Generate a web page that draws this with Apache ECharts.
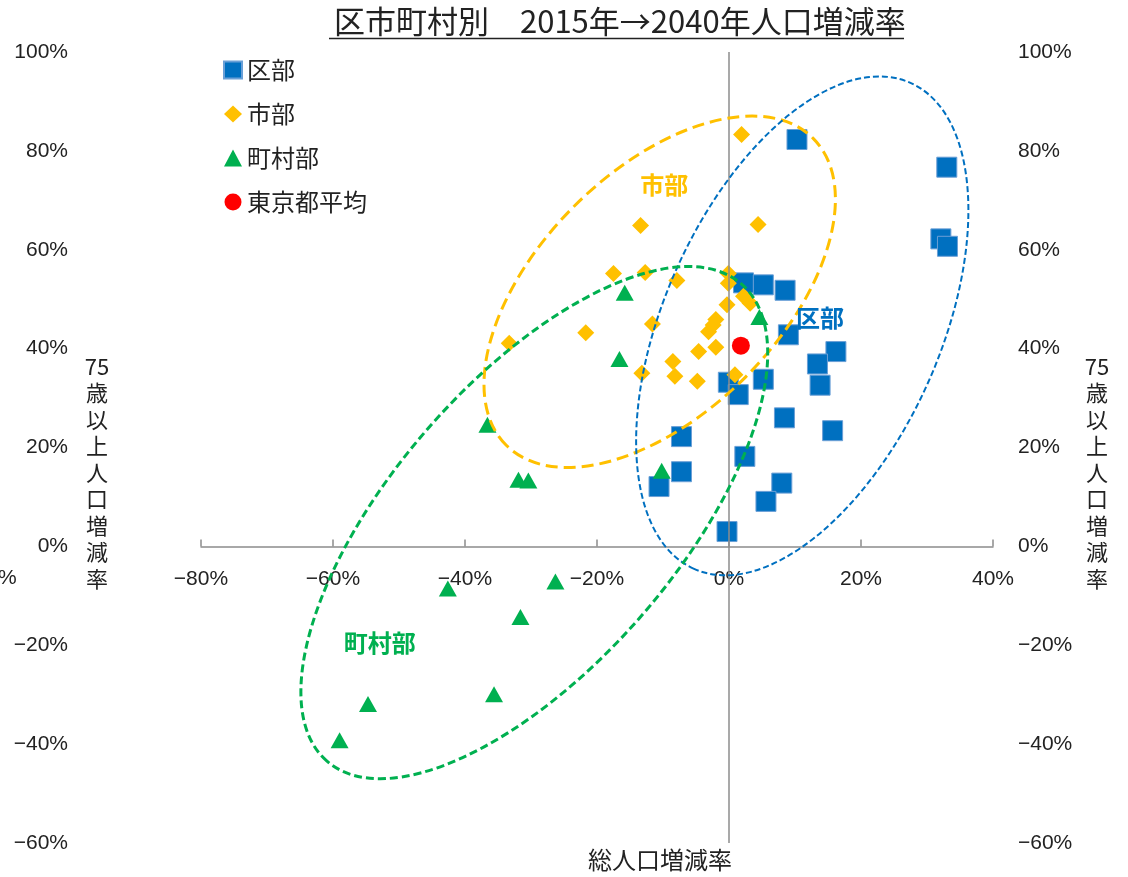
<!DOCTYPE html>
<html>
<head>
<meta charset="utf-8">
<script src="https://cdn.jsdelivr.net/npm/echarts@6/dist/echarts.min.js"></script>
<style>
  html, body { margin: 0; padding: 0; background: #fff; }
  #chart { width: 1128px; height: 877px; }
</style>
</head>
<body>
<div id="chart"></div>
<script>
// 総人口増減率 (x, %) / 75歳以上人口増減率 (y, %)
const kubuX = [10.3, 33.0, 32.1, 33.1, 2.2, 5.2, 8.5, 9.0, 16.2, 13.4, 13.8, 5.2, -0.1, 1.4, 8.4, 15.7, -7.2, 2.4, -7.2, -10.6, 8.0, 5.6, -0.3];
const kubuY = [82.3, 76.7, 62.2, 60.7, 53.3, 52.9, 51.8, 42.8, 39.4, 36.9, 32.6, 33.8, 33.2, 30.7, 26.0, 23.4, 22.2, 18.2, 15.1, 12.1, 12.8, 9.1, 3.0];

const shibuX = [1.9, -13.4, 4.4, -17.5, -12.7, -7.9, -0.1, -0.1, 2.2, 3.2, -0.3, -11.6, -2.0, -2.4, -3.1, -21.7, -33.3, -2.0, -4.6, -8.5, -13.2, -8.2, -4.8, 0.9];
const shibuY = [83.3, 64.9, 65.1, 55.2, 55.4, 53.8, 55.2, 53.2, 50.6, 49.2, 48.9, 45.0, 45.9, 44.8, 43.4, 43.2, 41.1, 40.3, 39.4, 37.4, 35.0, 34.4, 33.4, 34.7];

const chosonX = [-15.8, -16.6, 4.6, -10.2, -36.6, -31.9, -30.4, -42.6, -26.3, -31.6, -35.6, -54.7, -59.0];
const chosonY = [51.3, 37.9, 46.4, 15.3, 24.6, 13.5, 13.3, -8.5, -7.1, -14.3, -29.9, -31.9, -39.2];

const tokyoX = [1.8];
const tokyoY = [40.6];

const seriesNames = ['区部', '市部', '町村部', '東京都平均'];
const colors = ['#0070c0', '#ffc000', '#00b050', '#ff0000'];

// 軸の範囲
const xMin = -80, xMax = 40, xStep = 20;
const yMin = -60, yMax = 100, yStep = 20;

// 楕円の注記: 中心(データ座標)
const groupNames = ['市部', '区部', '町村部'];
const groupLabelX = [-9.8, 13.8, -52.9];
const groupLabelY = [73.2, 46.3, -19.6];
const ellipseCx = [-10.5, 11.1, -29.5];
const ellipseCy = [51.5, 44.6, 4.8];

const FONT = '"Noto Sans CJK JP", "Noto Sans", sans-serif';
const NUM_FONT = '"Liberation Sans", Arial, sans-serif';

function pairs(xs, ys) {
  return xs.map((x, i) => [x, ys[i]]);
}
function pct(v) {
  return String(v).replace('-', '\u2212') + '%';
}

const gridTop = 52, gridBottom = 34, chartH = 877;
const gridH = chartH - gridTop - gridBottom;
// x軸を y=0 の位置に移動
const xAxisOffset = -gridH * (0 - yMin) / (yMax - yMin);

const chart = echarts.init(document.getElementById('chart'));

const yAxisBase = {
  type: 'value',
  min: yMin,
  max: yMax,
  interval: yStep,
  axisLine: { show: false },
  axisTick: { show: false },
  splitLine: { show: false },
  axisLabel: {
    color: '#222',
    fontSize: 21,
    fontFamily: NUM_FONT,
    padding: [4, 0, 0, 0],
    formatter: pct
  }
};

const option = {
  animation: false,
  title: {
    text: '区市町村別\u30002015年\u21922040年人口増減率',
    left: 329,
    top: 1,
    textStyle: { fontFamily: FONT, fontSize: 31, fontWeight: 'normal', color: '#222' }
  },
  legend: {
    orient: 'vertical',
    left: 223,
    top: 58,
    padding: 0,
    itemGap: 20,
    itemWidth: 18,
    itemHeight: 17,
    textStyle: { fontFamily: FONT, fontSize: 24, lineHeight: 24, color: '#222' },
    data: seriesNames
  },
  grid: { left: 201, right: 135, top: gridTop, bottom: gridBottom, outerBoundsMode: 'none' },
  xAxis: {
    type: 'value',
    min: xMin,
    max: xMax,
    interval: xStep,
    offset: xAxisOffset,
    axisLine: { onZero: false, lineStyle: { color: '#8c8c8c', width: 1.5 } },
    axisTick: { show: true, inside: true, length: 7, lineStyle: { color: '#8c8c8c', width: 1.5 } },
    splitLine: { show: false },
    axisLabel: { color: '#222', fontSize: 21, fontFamily: NUM_FONT, margin: 22, formatter: pct }
  },
  yAxis: [
    Object.assign({}, yAxisBase, { position: 'left', axisLabel: Object.assign({}, yAxisBase.axisLabel, { margin: 133 }) }),
    Object.assign({}, yAxisBase, { position: 'right', axisLabel: Object.assign({}, yAxisBase.axisLabel, { margin: 25 }) })
  ],
  series: [
    {
      name: seriesNames[0],
      type: 'scatter',
      symbol: 'rect',
      symbolSize: 20,
      itemStyle: { color: colors[0], opacity: 1, borderColor: '#6a9fd6', borderWidth: 1 },
      data: pairs(kubuX, kubuY),
      markLine: {
        silent: true,
        symbol: 'none',
        label: { show: false },
        lineStyle: { color: '#8c8c8c', width: 1.5, type: 'solid' },
        data: [{ xAxis: 0 }]
      },
      z: 3
    },
    {
      name: seriesNames[1],
      type: 'scatter',
      symbol: 'diamond',
      symbolSize: 17,
      itemStyle: { color: colors[1], opacity: 1 },
      data: pairs(shibuX, shibuY),
      z: 4
    },
    {
      name: seriesNames[2],
      type: 'scatter',
      symbol: 'triangle',
      symbolSize: [18, 16],
      itemStyle: { color: colors[2], opacity: 1 },
      data: pairs(chosonX, chosonY),
      z: 4
    },
    {
      name: seriesNames[3],
      type: 'scatter',
      symbol: 'circle',
      symbolSize: 18,
      itemStyle: { color: colors[3], opacity: 1 },
      data: pairs(tokyoX, tokyoY),
      z: 5
    }
  ]
};

chart.setOption(option);

// 楕円: 半径(px), 傾き(度)
const ellipseRx = [217, 266, 316];
const ellipseRy = [121, 138, 142];
const ellipseRot = [45, 66, 49];
const ellipseColor = [colors[1], colors[0], colors[2]];
const ellipseWidth = [3, 2, 3];
const ellipseDash = [[12, 6], [6, 3], [8, 4]];

const graphics = [];
ellipseCx.forEach((cx, i) => {
  const p = chart.convertToPixel({ gridIndex: 0 }, [cx, ellipseCy[i]]);
  graphics.push({
    type: 'ellipse',
    x: p[0],
    y: p[1],
    rotation: ellipseRot[i] * Math.PI / 180,
    shape: { cx: 0, cy: 0, rx: ellipseRx[i], ry: ellipseRy[i] },
    style: { fill: 'none', stroke: ellipseColor[i], lineWidth: ellipseWidth[i], lineDash: ellipseDash[i] },
    z: 10,
    silent: true
  });
});
groupNames.forEach((name, i) => {
  const p = chart.convertToPixel({ gridIndex: 0 }, [groupLabelX[i], groupLabelY[i]]);
  graphics.push({
    type: 'text',
    x: p[0],
    y: p[1],
    style: {
      text: name,
      fill: ellipseColor[i],
      font: 'bold 24px ' + FONT,
      align: 'center',
      verticalAlign: 'middle'
    },
    z: 11
  });
});

// タイトル下線
graphics.push({ type: 'line', shape: { x1: 329, y1: 38.5, x2: 904, y2: 38.5 }, style: { stroke: '#222', lineWidth: 1.5 } });

// 縦書きの軸名
const yName = '75\n歳\n以\n上\n人\n口\n増\n減\n率';
[97, 1097].forEach(x => {
  graphics.push({
    type: 'text',
    x: x,
    y: 353,
    style: { text: yName, fill: '#222', font: '22px ' + FONT, align: 'center', verticalAlign: 'top', lineHeight: 26.5 }
  });
});
graphics.push({ type: 'text', x: -2, y: 578, style: { text: '%', fill: '#222', font: '21px ' + NUM_FONT, align: 'left', verticalAlign: 'middle' } });
// x軸名
graphics.push({ type: 'text', x: 660, y: 860, style: { text: '総人口増減率', fill: '#222', font: '24px ' + FONT, align: 'center', verticalAlign: 'middle' } });

chart.setOption({ graphic: graphics });
</script>
</body>
</html>
